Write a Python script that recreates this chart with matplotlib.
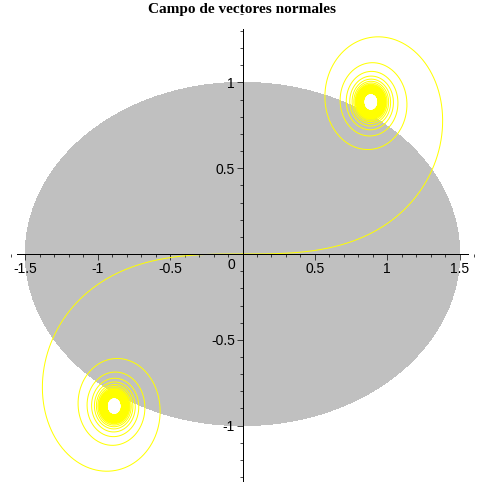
import numpy as np
import matplotlib
matplotlib.use('Agg')
import matplotlib.pyplot as plt
from matplotlib.patches import Ellipse
from matplotlib.ticker import FixedLocator, MultipleLocator

plt.rcParams['axes.unicode_minus'] = False
plt.rcParams['font.family'] = ['Liberation Sans', 'DejaVu Sans']

TITLE = 'Campo de vectores normales'

# gray region: ellipse with semi-axes
ELLIPSE_A = 1.5
ELLIPSE_B = 1.0

# yellow curve: clothoid x' = cos(t^2/2), y' = sin(t^2/2), t in [-T, T]
SPIRAL_T_MAX = 20.0

X_TICKS = [-1.5, -1, -0.5, 0.5, 1, 1.5]
X_TICK_LABELS = ['-1.5', '-1', '-0.5', '0.5', '1', '1.5']
Y_TICKS = [-1, -0.5, 0.5, 1]
Y_TICK_LABELS = ['-1', '-0.5', '0.5', '1']

X_AXIS_EXTENT = (-1.56, 1.56)
Y_AXIS_EXTENT = (-1.32, 1.31)

LW = 0.5


def clothoid(t_max, n=400001, step=40):
    t = np.linspace(0, t_max, n)
    dt = t[1] - t[0]
    cx = np.cos(t ** 2 / 2)
    cy = np.sin(t ** 2 / 2)
    x = np.concatenate([[0], np.cumsum((cx[1:] + cx[:-1]) / 2 * dt)])
    y = np.concatenate([[0], np.cumsum((cy[1:] + cy[:-1]) / 2 * dt)])
    # keep a coarser polyline for drawing
    return x[::step], y[::step]


def main():
    fig = plt.figure(figsize=(4.84, 4.84), dpi=100)
    ax = fig.add_axes([0, 0, 1, 1])
    ax.set_xlim(-1.675, 1.668)
    ax.set_ylim(-1.340, 1.480)
    ax.patch.set_visible(False)

    ax.add_patch(Ellipse((0, 0), 2 * ELLIPSE_A, 2 * ELLIPSE_B, facecolor='#c0c0c0',
                         edgecolor='none', antialiased=False, zorder=1))

    sx, sy = clothoid(SPIRAL_T_MAX)
    for sgn in (1, -1):
        ax.plot(sgn * sx, sgn * sy, color='#ffff00', lw=0.72, antialiased=True,
                solid_joinstyle='miter', zorder=2)

    # axes through the origin
    ax.spines['left'].set_position(('data', 0))
    ax.spines['bottom'].set_position(('data', 0))
    ax.spines['right'].set_visible(False)
    ax.spines['top'].set_visible(False)
    ax.spines['bottom'].set_bounds(*X_AXIS_EXTENT)
    ax.spines['left'].set_bounds(*Y_AXIS_EXTENT)
    for sp in ('left', 'bottom'):
        ax.spines[sp].set_linewidth(LW)
        ax.spines[sp].set_zorder(3)
        ax.spines[sp].set_antialiased(False)

    ax.xaxis.set_major_locator(FixedLocator(X_TICKS))
    ax.set_xticklabels(X_TICK_LABELS)
    ax.yaxis.set_major_locator(FixedLocator(Y_TICKS))
    ax.set_yticklabels(Y_TICK_LABELS)
    ax.xaxis.set_minor_locator(MultipleLocator(0.1))
    ax.yaxis.set_minor_locator(MultipleLocator(0.1))
    ax.tick_params(which='major', length=4, width=LW, labelsize=10, pad=1.5)
    ax.tick_params(which='minor', length=2.2, width=LW)

    ax.annotate('0', xy=(0, 0), xytext=(-5, -3), textcoords='offset points',
                ha='right', va='top', fontsize=10)

    fig.text(0.5, 1 - 2.5 / 484, TITLE, ha='center', va='top', fontsize=11,
             fontweight='bold', family='Liberation Serif')

    fig.savefig('out.png', dpi=100)


if __name__ == '__main__':
    main()
